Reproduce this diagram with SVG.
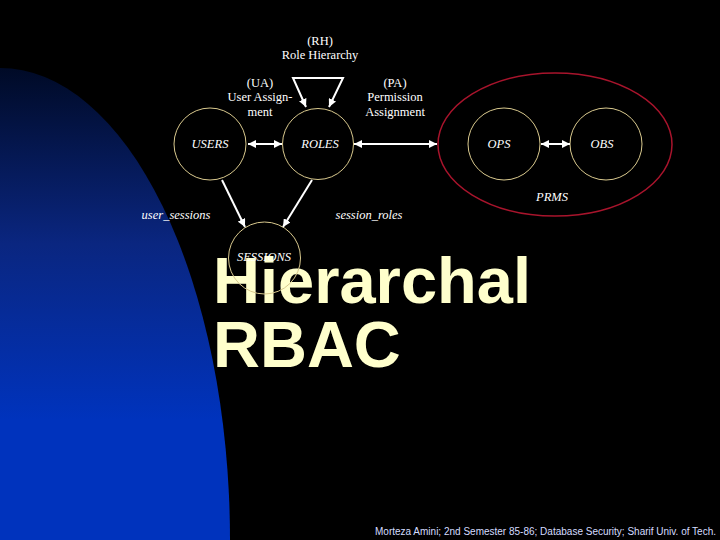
<svg xmlns="http://www.w3.org/2000/svg" width="720" height="540" viewBox="0 0 720 540">
<defs>
<linearGradient id="blue" x1="0" y1="68" x2="0" y2="420" gradientUnits="userSpaceOnUse">
<stop offset="0" stop-color="#000a26"/>
<stop offset="0.5" stop-color="#0a2680"/>
<stop offset="1" stop-color="#0033bd"/>
</linearGradient>
<marker id="ah" viewBox="0 0 10 10" refX="10" refY="5" markerWidth="4" markerHeight="4" orient="auto-start-reverse" markerUnits="strokeWidth">
<path d="M0,0 L10,5 L0,10 z" fill="#ffffff"/>
</marker>
</defs>
<style>
.node{fill:none;stroke:#d9c98e;stroke-width:1}
.lbl{font-family:"Liberation Serif","Times New Roman",serif;font-size:12.5px;fill:#ffffff;text-anchor:middle}
.it{font-style:italic}
.con{stroke:#ffffff;stroke-width:2;fill:none}
.title{font-family:"Liberation Sans",Arial,sans-serif;font-weight:bold;font-size:65px;fill:#ffffcc}
</style>
<rect width="720" height="540" fill="#000000"/>
<path d="M0,540 L0,68 A230,472 0 0 1 230,540 Z" fill="url(#blue)"/>
<g id="title">
<text class="title" x="213" y="303">Hierarchal</text>
<text class="title" x="213" y="367">RBAC</text>
</g>
<g id="prms">
<ellipse cx="555" cy="144.5" rx="117" ry="71.5" fill="none" stroke="#a8142c" stroke-width="1.5"/>
<text class="lbl it" x="552" y="201">PRMS</text>
</g>
<g id="users">
<circle class="node" cx="210" cy="144" r="36"/>
<text class="lbl it" x="210" y="148">USERS</text>
</g>
<g id="roles">
<circle class="node" cx="318" cy="144" r="35.5"/>
<text class="lbl it" x="320" y="148">ROLES</text>
</g>
<g id="ops">
<circle class="node" cx="504" cy="144" r="36"/>
<text class="lbl it" x="499" y="148">OPS</text>
</g>
<g id="obs">
<circle class="node" cx="606" cy="144" r="36"/>
<text class="lbl it" x="602" y="148">OBS</text>
</g>
<g id="sessions">
<circle class="node" cx="264.5" cy="258" r="36"/>
<text class="lbl it" x="264" y="261">SESSIONS</text>
</g>
<g id="connectors">
<line class="con" x1="248" y1="144" x2="282" y2="144" marker-start="url(#ah)" marker-end="url(#ah)"/>
<line class="con" x1="354" y1="144" x2="437" y2="144" marker-start="url(#ah)" marker-end="url(#ah)"/>
<line class="con" x1="541" y1="144" x2="570" y2="144" marker-start="url(#ah)" marker-end="url(#ah)"/>
<polyline class="con" points="306,107 293,78 343,78 329,107" marker-start="url(#ah)" marker-end="url(#ah)"/>
<line class="con" x1="222" y1="180" x2="245" y2="227" marker-end="url(#ah)"/>
<line class="con" x1="312" y1="180" x2="283" y2="227" marker-end="url(#ah)"/>
</g>
<g id="labels">
<text class="lbl" x="320" y="45">(RH)</text>
<text class="lbl" x="320" y="59">Role Hierarchy</text>
<text class="lbl" x="260" y="87">(UA)</text>
<text class="lbl" x="260" y="101">User Assign-</text>
<text class="lbl" x="260" y="116">ment</text>
<text class="lbl" x="395" y="87">(PA)</text>
<text class="lbl" x="395" y="101">Permission</text>
<text class="lbl" x="395" y="116">Assignment</text>
<text class="lbl it" x="176" y="219">user_sessions</text>
<text class="lbl it" x="369" y="219">session_roles</text>
</g>
<text x="716" y="535" text-anchor="end" textLength="341" lengthAdjust="spacingAndGlyphs" font-family="'Liberation Sans',Arial,sans-serif" font-size="10" fill="#d4dcff">Morteza Amini; 2nd Semester 85-86; Database Security; Sharif Univ. of Tech.</text>
</svg>
